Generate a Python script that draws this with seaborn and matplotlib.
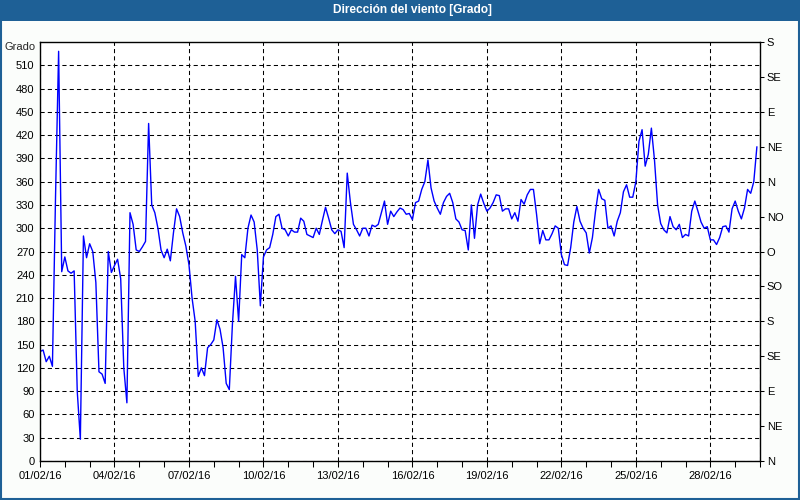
import pandas as pd
import matplotlib
matplotlib.use("Agg")
import matplotlib.pyplot as plt
import matplotlib.dates as mdates
from matplotlib.patches import Rectangle
from matplotlib.ticker import FuncFormatter
import seaborn as sns

# direccion del viento, un valor cada 3 horas desde 01/02/16 00:00
grado = [
    141, 143, 128, 135, 122, 340, 528, 244, 263, 245,
    242, 245, 90, 28, 290, 262, 280, 270, 230, 115,
    112, 100, 270, 243, 252, 260, 235, 120, 75, 320,
    305, 272, 270, 276, 283, 435, 330, 320, 300, 272,
    262, 273, 258, 294, 325, 315, 294, 277, 253, 210,
    180, 109, 120, 110, 146, 150, 156, 182, 170, 146,
    100, 92, 176, 238, 180, 266, 262, 300, 317, 308,
    272, 200, 263, 272, 275, 292, 315, 318, 300,
    298, 290, 298, 295, 295, 313, 309, 292, 290, 288,
    300, 292, 310, 327, 313, 298, 293, 298, 296, 275,
    371, 334, 305, 298, 290, 300, 300, 290, 304, 302,
    305, 320, 335, 305, 322, 315, 321, 326, 324,
    318, 319, 311, 333, 335, 350, 360, 388, 352, 335,
    326, 318, 333, 341, 345, 333, 312, 308, 298, 297,
    272, 330, 287, 330, 344, 332, 322, 326, 333, 343,
    342, 322, 325, 325, 312, 320, 309, 337,
    331, 343, 350, 350, 318, 280, 297, 285, 285, 293,
    303, 300, 266, 253, 252, 275, 308, 328, 309, 300,
    294, 268, 288, 322, 350, 338, 336, 300, 303, 290,
    309, 320, 347, 356, 340, 340, 360, 412, 427, 380,
    395, 429, 388, 330, 306, 298, 294, 315, 302, 298,
    305, 288, 292, 290, 322, 335, 322, 308, 300, 302,
    285, 285, 279, 288, 302, 303, 295, 325, 335, 322,
    312, 326, 350, 345, 360, 405,
]
fechas = pd.date_range("2016-02-01", periods=len(grado), freq="3h")
puntos = ["N", "NE", "E", "SE", "S", "SO", "O", "NO", "N", "NE", "E", "SE", "S"]

df = pd.DataFrame({"fecha": fechas, "grado": grado})

sns.set_style("white")
plt.rcParams["font.family"] = ["Liberation Sans", "DejaVu Sans"]
plt.rcParams["font.size"] = 8

fig = plt.figure(figsize=(8, 5), dpi=100, facecolor="#fbfdfb")
# barra de titulo
fig.patches.append(Rectangle((0, 0.958), 1, 0.042, transform=fig.transFigure,
                             facecolor="#1e6096", edgecolor="none"))
fig.patches.append(Rectangle((0.001, 0.002), 0.998, 0.997, transform=fig.transFigure,
                             fill=False, edgecolor="#1e6096", linewidth=1.5))
fig.text(0.516, 0.979, "Dirección del viento [Grado]", color="white",
         fontweight="bold", fontsize=8.6, ha="center", va="center")

ax = fig.add_axes([0.05, 0.078, 0.90, 0.838])
ax.set_facecolor("white")
sns.lineplot(data=df, x="fecha", y="grado", ax=ax, color="#0000ff", linewidth=1)

ax.set_xlim(pd.Timestamp("2016-02-01"), pd.Timestamp("2016-03-01"))
ax.set_ylim(0, 540)
ax.set_yticks(range(0, 511, 30))
ax.xaxis.set_major_locator(mdates.DayLocator(bymonthday=range(1, 32, 3)))
ax.xaxis.set_minor_locator(mdates.DayLocator())


def etiqueta(x, pos):
    d = mdates.num2date(x)
    return "" if d.month != 2 else d.strftime("%d/%m/%y")


ax.xaxis.set_major_formatter(FuncFormatter(etiqueta))
ax.set_xlabel("")
ax.set_ylabel("")
ax.grid(True, which="major", color="black", linestyle=(0, (4, 3)), linewidth=0.75)
ax.tick_params(axis="y", length=0, pad=4, colors="black")
ax.tick_params(axis="x", which="both", direction="out", length=4, width=0.75,
               pad=3, colors="black", bottom=True)
for s in ax.spines.values():
    s.set_color("black")
    s.set_linewidth(1)
ax.text(-0.006, 1.0, "Grado", transform=ax.transAxes, ha="right", va="top")

ax2 = ax.twinx()
ax2.set_ylim(0, 540)
ax2.set_yticks(range(0, 541, 45))
ax2.set_yticklabels(puntos)
ax2.tick_params(axis="y", direction="out", length=3, width=0.75, pad=2, colors="black")
for s in ax2.spines.values():
    s.set_visible(False)

fig.savefig("out.png", dpi=100, facecolor=fig.get_facecolor())
